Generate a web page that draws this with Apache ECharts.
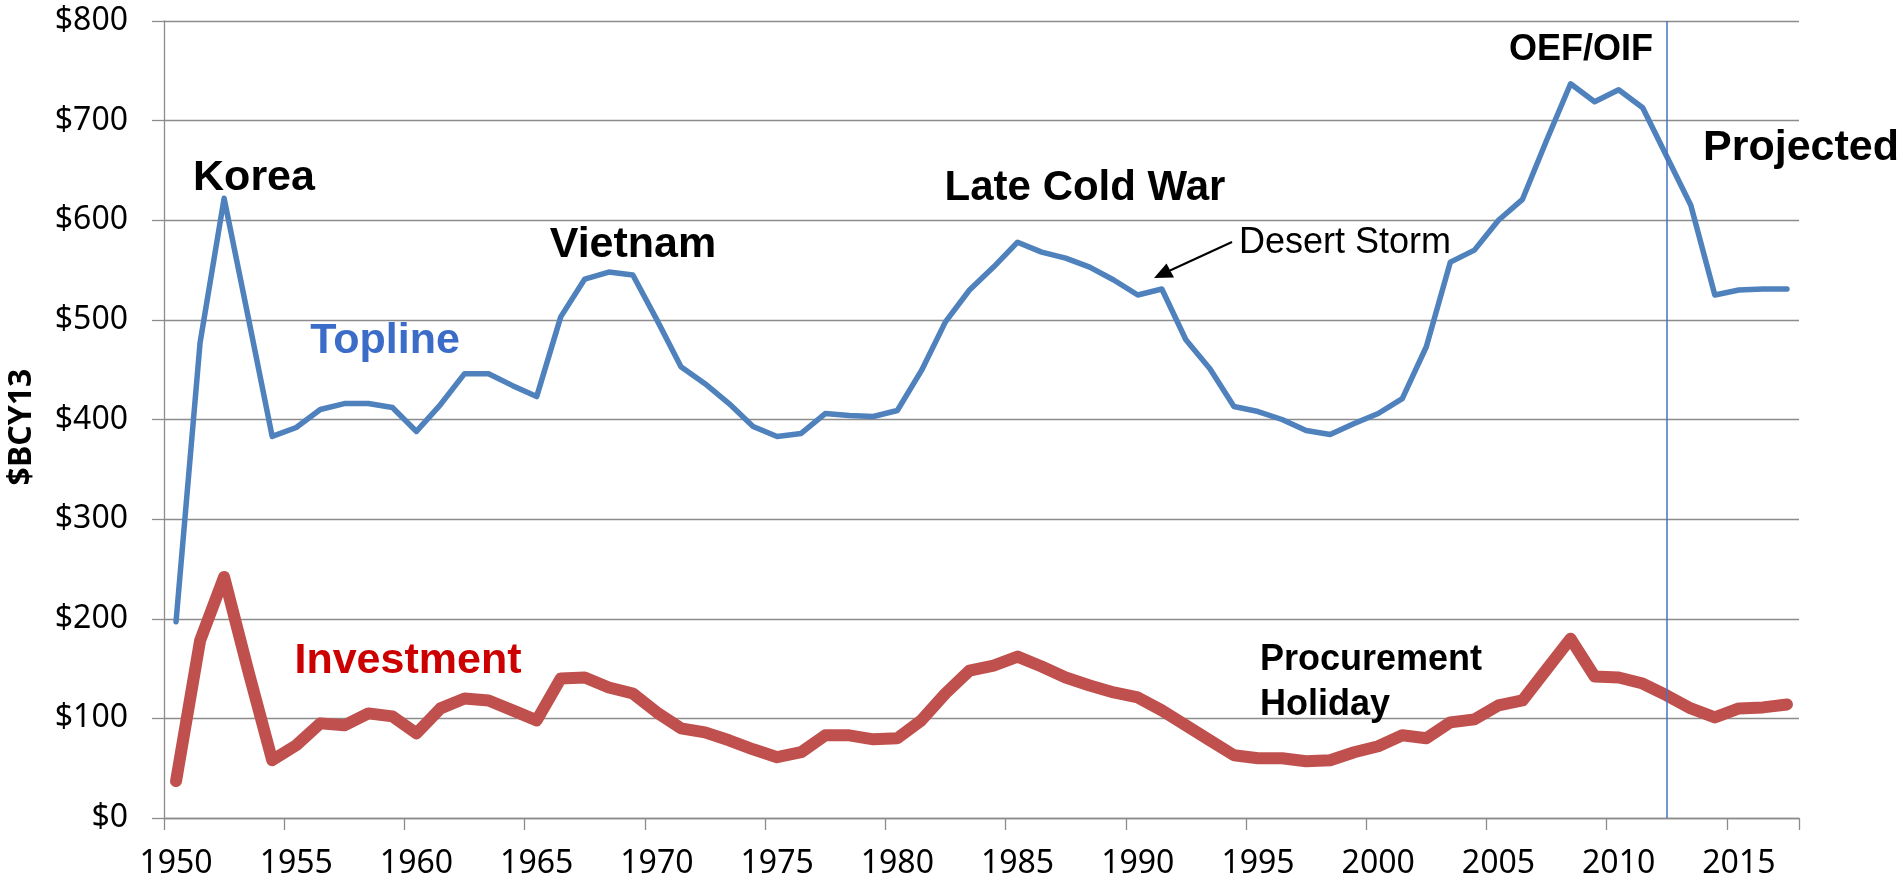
<!DOCTYPE html>
<html>
<head>
<meta charset="utf-8">
<script src="https://cdn.jsdelivr.net/npm/echarts@6/dist/echarts.min.js"></script>
<style>
html,body{margin:0;padding:0;background:#fff;}
#c{width:1903px;height:885px;}
</style>
</head>
<body>
<div id="c"></div>
<script>
const years = ['1950','1951','1952','1953','1954','1955','1956','1957','1958','1959',
  '1960','1961','1962','1963','1964','1965','1966','1967','1968','1969',
  '1970','1971','1972','1973','1974','1975','1976','1977','1978','1979',
  '1980','1981','1982','1983','1984','1985','1986','1987','1988','1989',
  '1990','1991','1992','1993','1994','1995','1996','1997','1998','1999',
  '2000','2001','2002','2003','2004','2005','2006','2007','2008','2009',
  '2010','2011','2012','2013','2014','2015','2016','2017'];
const topline = [197,477,622,503,383,392,410,416,416,412,
  388,415,446,446,434,423,503,541,548,545,
  500,453,436,416,393,383,386,406,404,403,
  409,449,498,530,553,578,568,562,553,540,
  525,531,480,451,413,408,400,389,385,396,
  406,421,473,558,570,600,621,680,737,719,
  731,713,664,615,525,530,531,531];
const investment = [37,178,242,148,58,73,95,93,105,102,
  85,110,120,118,108,98,140,141,131,125,
  106,90,86,78,69,61,66,83,83,79,
  80,98,125,148,153,162,152,141,133,126,
  121,108,93,78,63,60,60,57,58,66,
  72,83,80,96,99,113,118,149,180,142,
  141,135,123,110,101,110,111,114];
const projectionStart = '2012';
const yTicks = [0,100,200,300,400,500,600,700,800];

const chart = echarts.init(document.getElementById('c'), null, {renderer:'canvas'});
const gridCol = '#8c8c8c';
const boldFont = 'Liberation Sans';
function ann(text, x, y, size, opts) {
  opts = opts || {};
  return {
    type: 'text', x: x, y: y, silent: true, z: 100,
    rotation: opts.rotation || 0,
    style: {
      text: text,
      fontFamily: opts.family || boldFont,
      fontWeight: opts.weight || 'bold',
      fontSize: size,
      fill: opts.color || '#000',
      textAlign: opts.align || 'center',
      textVerticalAlign: 'middle'
    }
  };
}
chart.setOption({
  animation: false,
  grid: {left: 164, top: 21, right: 104, bottom: 67, containLabel: false},
  xAxis: {
    type: 'category',
    data: years,
    boundaryGap: true,
    axisLine: {show: true, lineStyle: {color: gridCol, width: 1.3}},
    axisTick: {show: true, interval: 4, length: 12, lineStyle: {color: gridCol, width: 1.3}},
    axisLabel: {interval: 4, margin: 30, fontFamily: 'Noto Sans', fontSize: 32, color: '#000'},
    splitLine: {show: false}
  },
  yAxis: {
    type: 'value',
    min: yTicks[0], max: yTicks[yTicks.length-1], interval: 100,
    axisLine: {show: true, lineStyle: {color: gridCol, width: 1.3}},
    axisTick: {show: true, length: 12, lineStyle: {color: gridCol, width: 1.3}},
    axisLabel: {margin: 36, fontFamily: 'Noto Sans', fontSize: 32, color: '#000',
      formatter: function(v){ return '$' + v; }},
    splitLine: {show: true, lineStyle: {color: gridCol, width: 1.3}}
  },
  series: [
    {
      name: 'Topline', type: 'line', data: topline, symbol: 'none',
      lineStyle: {color: '#4f81bd', width: 5.5, cap: 'round', join: 'round'},
      z: 3,
      markLine: {
        silent: true, symbol: 'none',
        label: {show: false},
        lineStyle: {color: '#4472c4', width: 1.5, type: 'solid'},
        data: [{xAxis: projectionStart}]
      }
    },
    {
      name: 'Investment', type: 'line', data: investment, symbol: 'none',
      lineStyle: {color: '#c0504d', width: 12, cap: 'round', join: 'round'},
      z: 2
    }
  ],
  graphic: [
    ann('$BCY13', 22, 427, 32, {family: 'Noto Sans', rotation: Math.PI / 2}),
    ann('Korea', 254, 178, 43),
    ann('Vietnam', 633, 245, 43),
    ann('Topline', 385, 341, 43, {color: '#3a6cc8'}),
    ann('Investment', 408, 661, 43, {color: '#cc0000'}),
    ann('Late Cold War', 1085, 188, 42),
    ann('Desert Storm', 1345, 243, 36, {weight: 'normal'}),
    ann('OEF/OIF', 1581, 50, 36),
    ann('Projected', 1703, 148, 43, {align: 'left'}),
    ann('Procurement', 1260, 660, 36, {align: 'left'}),
    ann('Holiday', 1260, 705, 36, {align: 'left'}),
    {type: 'line', silent: true, z: 100,
      shape: {x1: 1232, y1: 242, x2: 1170, y2: 270.5},
      style: {stroke: '#000', lineWidth: 2}},
    {type: 'polygon', silent: true, z: 100,
      shape: {points: [[1154, 278], [1174, 277.5], [1166.5, 263.5]]},
      style: {fill: '#000'}}
  ]
});
</script>
</body>
</html>
